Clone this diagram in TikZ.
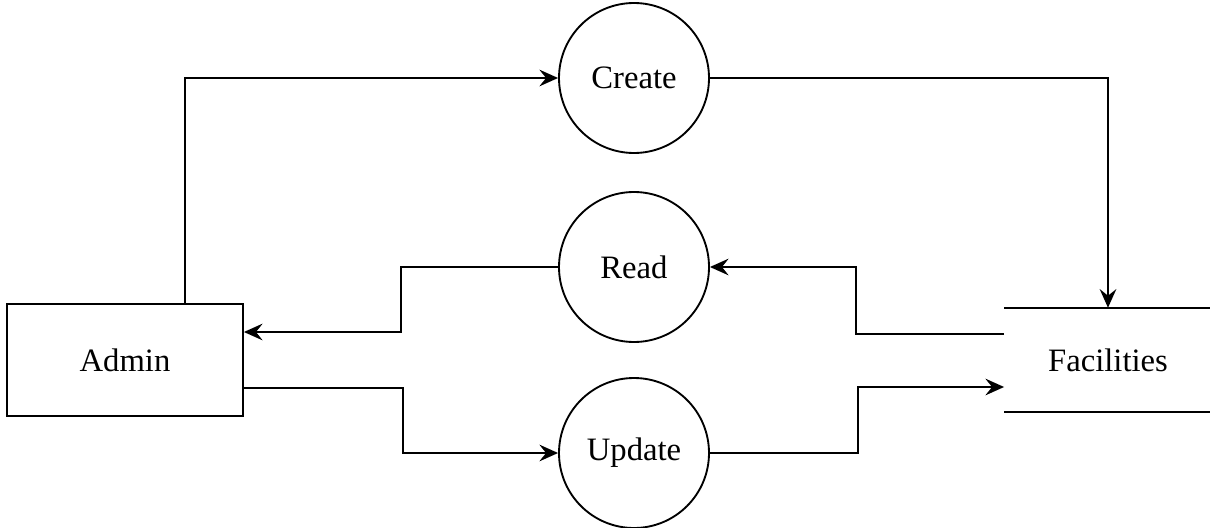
\documentclass[tikz,border=0pt]{standalone}
\usepackage{fontspec}
\setmainfont{Liberation Serif}
\usetikzlibrary{arrows.meta,calc}
\begin{document}
\begin{tikzpicture}[x=0.75pt,y=-0.75pt,
  line width=1.4pt,
  every node/.style={font=\fontsize{24.5}{28}\selectfont},
  proc/.style={draw,circle,minimum size=112.5pt,inner sep=0pt},
  entity/.style={draw,rectangle,minimum width=177pt,minimum height=84pt,inner sep=0pt},
  store/.style={rectangle,minimum width=154.5pt,minimum height=77pt,inner sep=0pt},
  flow/.style={-{Stealth[length=14pt,width=12.5pt,inset=5pt]}}]
\useasboundingbox (0,0) rectangle (1210,528);
\node[entity] (admin) at (125,360) {Admin};
\node[proc] (create) at (634,78) {Create};
\node[proc] (read) at (634,267) {Read};
\node[proc] (update) at (634,453) {Update};
\node[store] (fac) at (1108,360) {Facilities};
\draw (fac.north west) -- (fac.north east);
\draw (fac.south west) -- (fac.south east);
\draw[flow] ($(admin.north)+(60,0)$) |- (create.west);
\draw[flow] (create.east) -| (fac.north);
\draw[flow] ($(fac.west)+(0,-26)$) -- ++(-148,0) |- (read.east);
\draw[flow] (read.west) -- ++(-157,0) |- ($(admin.east)+(0,-28)$);
\draw[flow] ($(admin.east)+(0,28)$) -- ++(159,0) |- (update.west);
\draw[flow] (update.east) -- ++(148,0) |- ($(fac.west)+(0,27)$);
\end{tikzpicture}
\end{document}
